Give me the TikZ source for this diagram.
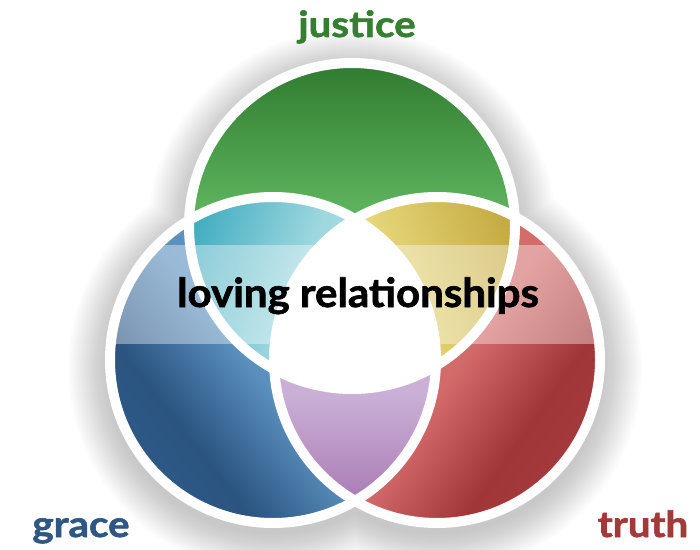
\documentclass[tikz,border=0pt]{standalone}
\usepackage{fontspec}
\setmainfont{Lato}
\newfontfamily\labelfont{Lato}[FakeStretch=1.12, FakeBold=1.6]
\newfontfamily\centrefont{Lato}[FakeStretch=1.05, FakeBold=1.6]

% palette
\definecolor{greenDark}{HTML}{2F7A2F}
\definecolor{greenLight}{HTML}{62B962}
\definecolor{blueDark}{HTML}{2B5481}
\definecolor{blueMid}{HTML}{2E5886}
\definecolor{blueLight}{HTML}{5B90BE}
\definecolor{blueLighter}{HTML}{679CC8}
\definecolor{redDark}{HTML}{A13638}
\definecolor{redMid}{HTML}{A53A3C}
\definecolor{redLight}{HTML}{D46B6B}
\definecolor{redLighter}{HTML}{D87272}
\definecolor{cyanDark}{HTML}{42ADC1}
\definecolor{cyanLight}{HTML}{A0D8DF}
\definecolor{cyanLighter}{HTML}{B4E1E6}
\definecolor{yellowLight}{HTML}{E7D87C}
\definecolor{yellowDark}{HTML}{C5AA42}
\definecolor{purpleLight}{HTML}{CAB0D6}
\definecolor{purpleDark}{HTML}{AB7DB6}
\definecolor{justiceGreen}{HTML}{357F30}
\definecolor{graceBlue}{HTML}{2E5784}
\definecolor{truthRed}{HTML}{A23A3A}

% gradients (core range 25bp..75bp spans the filled circle)
\pgfdeclareverticalshading{greenshade}{100bp}{color(0bp)=(greenLight); color(50bp)=(greenLight); color(75bp)=(greenDark); color(100bp)=(greenDark)}
\pgfdeclareverticalshading{blueshade}{100bp}{color(0bp)=(blueMid); color(25bp)=(blueMid); color(33bp)=(blueDark); color(47bp)=(blueLight); color(75bp)=(blueLighter); color(100bp)=(blueLighter)}
\pgfdeclareverticalshading{redshade}{100bp}{color(0bp)=(redMid); color(25bp)=(redMid); color(33bp)=(redDark); color(47bp)=(redLight); color(75bp)=(redLighter); color(100bp)=(redLighter)}
\pgfdeclareverticalshading{cyanshade}{100bp}{color(0bp)=(cyanDark); color(32bp)=(cyanDark); color(50bp)=(cyanLight); color(75bp)=(cyanLighter); color(100bp)=(cyanLighter)}
\pgfdeclareverticalshading{yellowshade}{100bp}{color(0bp)=(yellowLight); color(47bp)=(yellowLight); color(67bp)=(yellowDark); color(100bp)=(yellowDark)}
\pgfdeclareverticalshading{purpleshade}{100bp}{color(0bp)=(purpleDark); color(29bp)=(purpleDark); color(45bp)=(purpleLight); color(100bp)=(purpleLight)}

\begin{document}
\begin{tikzpicture}[x=1pt,y=1pt,
  ring/.style={draw=white, line width=10pt},
  caption/.style={font=\labelfont\bfseries\fontsize{36}{40}\selectfont, anchor=base, inner sep=0pt},
  centretext/.style={font=\centrefont\bfseries\fontsize{40}{48}\selectfont, anchor=base, inner sep=0pt, text=black}]
\useasboundingbox (0,0) rectangle (700,549);

\coordinate (G) at (352,323);
\coordinate (B) at (273,189);
\coordinate (R) at (437,189);

% soft drop shadow under the three discs
\foreach \k in {0,...,19}{
  \pgfmathsetmacro\rr{167+2.0*\k}
  \fill[black, opacity=0.011]
    ([yshift=-8pt]G) circle[radius=\rr pt]
    ([yshift=-8pt]B) circle[radius=\rr pt]
    ([yshift=-8pt]R) circle[radius=\rr pt];
}

% discs
\shade[shading=greenshade] (G) circle[radius=166pt];
\begin{scope}[transform canvas={rotate around={-52:(B)}}]
  \shade[shading=blueshade] (B) circle[radius=166pt];
\end{scope}
\begin{scope}[transform canvas={rotate around={55:(R)}}]
  \shade[shading=redshade] (R) circle[radius=166pt];
\end{scope}

% pairwise overlaps
\begin{scope}
  \clip (G) circle[radius=163pt];
  \begin{scope}[transform canvas={rotate around={-110:(B)}}]
    \shade[shading=cyanshade] (B) circle[radius=166pt];
  \end{scope}
\end{scope}
\begin{scope}
  \clip (G) circle[radius=163pt];
  \begin{scope}[transform canvas={rotate around={-70:(R)}}]
    \shade[shading=yellowshade] (R) circle[radius=166pt];
  \end{scope}
\end{scope}
\begin{scope}
  \clip (B) circle[radius=163pt];
  \shade[shading=purpleshade] (R) circle[radius=166pt];
\end{scope}

% triple overlap
\begin{scope}
  \clip (G) circle[radius=163pt];
  \clip (B) circle[radius=163pt];
  \fill[white] (R) circle[radius=166pt];
\end{scope}

% translucent band across the middle
\begin{scope}
  \clip (G) circle[radius=168pt] (B) circle[radius=168pt] (R) circle[radius=168pt];
  \fill[white, opacity=0.38] (0,205) rectangle (700,304);
\end{scope}

% white rims
\draw[ring] (G) circle[radius=163pt];
\draw[ring] (B) circle[radius=163pt];
\draw[ring] (R) circle[radius=163pt];

% labels
\node[centretext] (love) at (358,242) {loving relationships};
\node[caption, text=justiceGreen] (justice) at (357,512) {justice};
\node[caption, text=graceBlue] (grace) at (81,12) {grace};
\node[caption, text=truthRed] (truth) at (643,12) {truth};
\end{tikzpicture}
\end{document}
